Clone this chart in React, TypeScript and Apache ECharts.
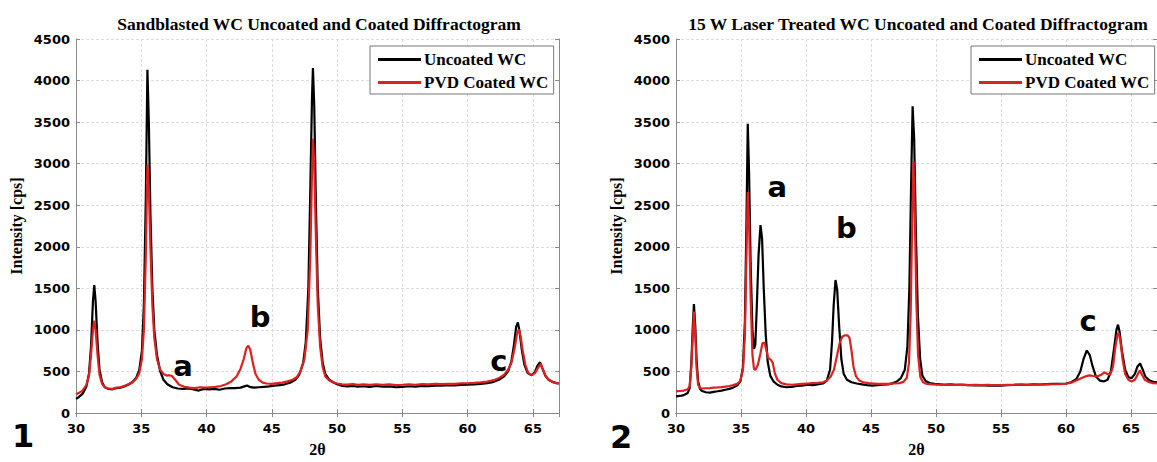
import React, { useEffect, useRef } from "react";
import * as echarts from "echarts";

// ---- Data (2θ, intensity in cps) ----
const xTicks = [30, 35, 40, 45, 50, 55, 60, 65];
const yTicks = [0, 500, 1000, 1500, 2000, 2500, 3000, 3500, 4000, 4500];

const titleLeft = "Sandblasted WC Uncoated and Coated Diffractogram";
const titleRight = "15 W Laser Treated WC Uncoated and Coated Diffractogram";
const seriesNames = ["Uncoated WC", "PVD Coated WC"];

const sbUncoated: number[][] = [
  [30.0,170],[30.2,190],[30.5,230],[30.8,320],[31.0,480],[31.15,800],[31.3,1350],[31.4,1540],[31.5,1350],[31.65,850],[31.8,520],[32.0,370],[32.2,310],[32.5,290],[32.8,285],[33.1,300],[33.4,305],[33.7,320],[34.0,340],[34.3,370],[34.6,420],[34.85,520],[35.05,750],[35.2,1300],[35.35,2600],[35.47,4130],[35.58,3500],[35.7,2400],[35.85,1500],[36.0,1000],[36.2,700],[36.45,500],[36.7,400],[37.0,345],[37.4,310],[37.8,295],[38.2,290],[38.6,295],[39.0,285],[39.4,270],[39.8,290],[40.2,285],[40.6,290],[41.0,280],[41.4,295],[41.8,300],[42.2,300],[42.6,305],[42.9,320],[43.1,330],[43.3,315],[43.6,305],[44.0,310],[44.4,315],[44.8,320],[45.2,330],[45.6,335],[46.0,345],[46.4,365],[46.8,400],[47.1,460],[47.4,600],[47.6,850],[47.8,1500],[47.95,2700],[48.08,3800],[48.15,4150],[48.25,3700],[48.38,2500],[48.52,1500],[48.7,900],[48.9,600],[49.1,470],[49.4,400],[49.7,370],[50.0,345],[50.4,325],[50.8,320],[51.2,325],[51.6,318],[52.0,322],[52.5,315],[53.0,325],[53.5,318],[54.0,320],[54.5,310],[55.0,315],[55.5,322],[56.0,318],[56.5,325],[57.0,322],[57.5,330],[58.0,328],[58.5,335],[59.0,332],[59.5,338],[60.0,340],[60.5,345],[61.0,350],[61.5,360],[62.0,375],[62.4,400],[62.8,440],[63.1,500],[63.35,620],[63.55,820],[63.72,1040],[63.85,1090],[63.98,980],[64.15,760],[64.35,580],[64.6,480],[64.9,455],[65.15,490],[65.35,570],[65.55,610],[65.72,540],[65.95,450],[66.2,400],[66.5,375],[66.8,360],[67.0,355]
];

const sbCoated: number[][] = [
  [30.0,225],[30.2,240],[30.5,270],[30.8,340],[31.0,450],[31.15,700],[31.3,1000],[31.4,1110],[31.5,1000],[31.65,700],[31.8,460],[32.0,350],[32.2,310],[32.5,295],[32.8,290],[33.1,305],[33.4,310],[33.7,325],[34.0,345],[34.3,365],[34.6,410],[34.85,480],[35.05,650],[35.2,1000],[35.35,1900],[35.47,2990],[35.58,2700],[35.7,2000],[35.85,1300],[36.0,900],[36.2,650],[36.45,520],[36.7,470],[36.95,450],[37.15,455],[37.35,445],[37.6,400],[37.9,340],[38.3,315],[38.7,305],[39.1,300],[39.5,310],[39.9,305],[40.3,310],[40.7,315],[41.1,325],[41.5,345],[41.9,380],[42.3,440],[42.6,530],[42.85,650],[43.05,780],[43.2,810],[43.35,760],[43.55,600],[43.75,470],[44.0,400],[44.3,365],[44.6,355],[45.0,350],[45.4,360],[45.8,365],[46.2,380],[46.6,400],[46.9,430],[47.2,500],[47.5,650],[47.75,1000],[47.95,1900],[48.08,2900],[48.15,3300],[48.25,3000],[48.38,2100],[48.52,1300],[48.7,800],[48.9,550],[49.1,440],[49.4,390],[49.7,370],[50.0,355],[50.4,345],[50.8,342],[51.2,348],[51.6,340],[52.0,345],[52.5,338],[53.0,346],[53.5,340],[54.0,344],[54.5,336],[55.0,340],[55.5,346],[56.0,340],[56.5,348],[57.0,344],[57.5,350],[58.0,347],[58.5,352],[59.0,350],[59.5,356],[60.0,358],[60.5,362],[61.0,368],[61.5,378],[62.0,395],[62.4,420],[62.8,460],[63.1,520],[63.35,600],[63.6,780],[63.78,950],[63.92,1005],[64.05,930],[64.22,750],[64.42,580],[64.65,480],[64.9,455],[65.15,480],[65.38,540],[65.6,590],[65.78,520],[66.0,440],[66.25,395],[66.55,370],[66.8,360],[67.0,355]
];

const lzUncoated: number[][] = [
  [30.0,200],[30.3,205],[30.6,215],[30.9,240],[31.05,300],[31.18,600],[31.28,1000],[31.38,1310],[31.48,1050],[31.58,650],[31.7,380],[31.85,290],[32.0,265],[32.3,250],[32.6,245],[32.9,255],[33.2,262],[33.5,270],[33.8,280],[34.1,290],[34.4,305],[34.7,330],[34.95,380],[35.15,550],[35.3,1100],[35.42,2300],[35.52,3480],[35.62,2900],[35.74,1800],[35.88,1000],[36.0,770],[36.1,820],[36.22,1300],[36.35,1900],[36.5,2260],[36.62,2100],[36.75,1500],[36.9,950],[37.05,620],[37.25,450],[37.5,380],[37.8,340],[38.1,320],[38.5,310],[38.9,315],[39.3,325],[39.7,330],[40.1,340],[40.5,335],[40.9,345],[41.3,355],[41.6,390],[41.85,520],[42.0,850],[42.13,1300],[42.27,1600],[42.4,1480],[42.55,1050],[42.72,650],[42.9,470],[43.15,400],[43.5,370],[43.9,355],[44.3,345],[44.7,335],[45.1,330],[45.5,335],[45.9,340],[46.3,345],[46.7,360],[47.0,380],[47.3,420],[47.6,520],[47.8,800],[47.95,1500],[48.08,2700],[48.2,3690],[48.32,3300],[48.45,2200],[48.6,1200],[48.78,650],[48.95,450],[49.2,385],[49.5,360],[49.9,350],[50.3,345],[50.7,340],[51.1,345],[51.5,338],[52.0,340],[52.5,335],[53.0,332],[53.5,335],[54.0,330],[54.5,333],[55.0,330],[55.5,335],[56.0,338],[56.5,342],[57.0,340],[57.5,345],[58.0,343],[58.5,348],[59.0,350],[59.5,352],[60.0,355],[60.4,370],[60.8,410],[61.1,500],[61.35,650],[61.6,752],[61.82,700],[62.05,560],[62.3,440],[62.6,390],[62.9,380],[63.2,400],[63.45,500],[63.7,780],[63.88,1000],[64.0,1063],[64.12,980],[64.3,750],[64.55,520],[64.8,430],[65.05,420],[65.3,470],[65.5,560],[65.7,597],[65.88,530],[66.1,440],[66.4,395],[66.7,375],[67.0,370]
];

const lzCoated: number[][] = [
  [30.0,260],[30.3,265],[30.6,270],[30.9,285],[31.05,320],[31.18,550],[31.28,900],[31.38,1220],[31.48,950],[31.58,550],[31.7,340],[31.85,300],[32.0,295],[32.3,298],[32.6,300],[32.9,305],[33.2,308],[33.5,312],[33.8,318],[34.1,325],[34.4,335],[34.7,350],[34.95,385],[35.15,520],[35.3,950],[35.42,1900],[35.52,2660],[35.62,2300],[35.74,1400],[35.88,700],[36.0,530],[36.12,520],[36.3,580],[36.5,720],[36.65,840],[36.8,848],[36.95,760],[37.1,660],[37.3,640],[37.45,600],[37.6,480],[37.8,400],[38.1,360],[38.5,345],[38.9,340],[39.3,345],[39.7,350],[40.1,355],[40.5,360],[40.9,362],[41.3,370],[41.6,390],[41.9,440],[42.15,520],[42.4,700],[42.6,850],[42.8,920],[43.0,935],[43.2,935],[43.35,900],[43.5,750],[43.65,560],[43.85,440],[44.1,390],[44.4,370],[44.8,360],[45.2,355],[45.6,350],[46.0,352],[46.4,350],[46.8,355],[47.2,360],[47.5,375],[47.75,420],[47.92,600],[48.05,1200],[48.17,2300],[48.27,3033],[48.37,2400],[48.48,1400],[48.62,700],[48.8,430],[49.0,370],[49.3,350],[49.7,345],[50.1,342],[50.5,340],[51.0,344],[51.5,338],[52.0,342],[52.5,336],[53.0,340],[53.5,335],[54.0,338],[54.5,334],[55.0,337],[55.5,340],[56.0,338],[56.5,342],[57.0,340],[57.5,343],[58.0,341],[58.5,345],[59.0,346],[59.5,348],[60.0,352],[60.4,365],[60.8,390],[61.2,420],[61.5,440],[61.8,453],[62.1,445],[62.4,440],[62.7,460],[62.95,490],[63.15,470],[63.4,460],[63.62,560],[63.8,800],[63.95,930],[64.05,967],[64.17,880],[64.35,650],[64.55,470],[64.8,400],[65.05,380],[65.3,400],[65.5,460],[65.68,513],[65.85,460],[66.05,400],[66.4,370],[66.7,360],[67.0,355]
];

// peak annotations: [2θ, intensity, label]
const sbNotes: (number | string)[][] = [
  [38.2, 570, "a"],
  [44.1, 1150, "b"],
  [62.4, 630, "c"],
];
const lzNotes: (number | string)[][] = [
  [37.8, 2720, "a"],
  [43.1, 2220, "b"],
  [61.7, 1110, "c"],
];

const BLACK = "#000000";
const RED = "#dd2020";
const AXIS = "#8a8a8a";
const SANS = "DejaVu Sans";
const SERIF = "Liberation Serif";

export default function App() {
  const ref = useRef<HTMLDivElement>(null);

  useEffect(() => {
    if (!ref.current) return;
    const chart = echarts.init(ref.current, null, { renderer: "svg" });

    const xMin = xTicks[0];
    const xMax = 67;
    const xStep = xTicks[1] - xTicks[0];
    const yMin = yTicks[0];
    const yMax = yTicks[yTicks.length - 1];
    const yStep = yTicks[1] - yTicks[0];

    const grids = [
      { left: 76, top: 39, width: 483, height: 377 },
      { left: 676, top: 39, width: 485, height: 377 },
    ];

    const gridLine = { show: true, lineStyle: { color: "#dcdcdc", type: [3, 2], width: 1 } };
    const tick = { show: true, inside: true, length: 4, lineStyle: { color: AXIS } };
    const axLine = { show: true, lineStyle: { color: AXIS, width: 1 } };
    const nameStyle = { fontFamily: SERIF, fontWeight: "bold", fontSize: 16, color: "#000" };
    const tickLabel = { color: "#000", fontFamily: SANS, fontWeight: "bold", fontSize: 13 };

    const bottomX = (g: number) => ({
      type: "value",
      gridIndex: g,
      min: xMin,
      max: xMax,
      interval: xStep,
      position: "bottom",
      axisLine: axLine,
      axisTick: tick,
      axisLabel: { show: true, showMaxLabel: false, margin: 9, ...tickLabel },
      splitLine: gridLine,
      name: "2θ",
      nameLocation: "middle",
      nameGap: 28,
      nameTextStyle: nameStyle,
    });
    const topX = (g: number) => ({
      type: "value",
      gridIndex: g,
      min: xMin,
      max: xMax,
      interval: xStep,
      position: "top",
      axisLine: axLine,
      axisTick: tick,
      axisLabel: { show: false },
      splitLine: { show: false },
    });
    const leftY = (g: number) => ({
      type: "value",
      gridIndex: g,
      min: yMin,
      max: yMax,
      interval: yStep,
      position: "left",
      axisLine: axLine,
      axisTick: tick,
      axisLabel: { show: true, margin: 6, formatter: (v: number) => String(v), ...tickLabel },
      splitLine: gridLine,
      name: "Intensity [cps]",
      nameLocation: "middle",
      nameGap: 52,
      nameTextStyle: nameStyle,
    });
    const rightY = (g: number) => ({
      type: "value",
      gridIndex: g,
      min: yMin,
      max: yMax,
      interval: yStep,
      position: "right",
      axisLine: axLine,
      axisTick: tick,
      axisLabel: { show: false },
      splitLine: { show: false },
    });

    const lineSeries = (name: string, data: number[][], color: string, g: number) => ({
      type: "line",
      name,
      xAxisIndex: g,
      yAxisIndex: g,
      data,
      showSymbol: false,
      symbol: "none",
      lineStyle: { color, width: 2.2 },
      itemStyle: { color },
      clip: true,
      silent: true,
    });

    const noteSeries = (data: (number | string)[][], g: number) => ({
      type: "scatter",
      name: "notes" + g,
      xAxisIndex: g,
      yAxisIndex: g,
      data,
      symbolSize: 1,
      itemStyle: { color: "rgba(0,0,0,0)", opacity: 1 },
      silent: true,
      z: 5,
      label: {
        show: true,
        position: "inside",
        formatter: (p: any) => p.value[2],
        color: "#000",
        opacity: 1,
        textBorderWidth: 0,
        fontFamily: SANS,
        fontWeight: "bold",
        fontSize: 29,
      },
    });

    const legendBase = {
      data: seriesNames,
      orient: "vertical",
      icon: "rect",
      itemWidth: 43,
      itemHeight: 3,
      itemGap: 6,
      padding: [5, 5, 3, 8],
      backgroundColor: "#fff",
      borderColor: "#777",
      borderWidth: 1,
      borderRadius: 0,
      selectedMode: false,
      textStyle: { fontFamily: SERIF, fontWeight: "bold", fontSize: 17, color: "#000", padding: [0, 0, 0, -2] },
    };

    const titleText = (text: string, x: number) => ({
      type: "text",
      x,
      y: 24,
      style: {
        text,
        textAlign: "center",
        textVerticalAlign: "middle",
        font: `bold 17.5px "${SERIF}"`,
        fill: "#000",
      },
    });

    const option: any = {
      animation: false,
      backgroundColor: "#fff",
      grid: grids,
      xAxis: [bottomX(0), bottomX(1), topX(0), topX(1)],
      yAxis: [leftY(0), leftY(1), rightY(0), rightY(1)],
      legend: [
        { ...legendBase, left: 370, top: 46 },
        { ...legendBase, left: 971, top: 46 },
      ],
      series: [
        lineSeries(seriesNames[0], sbUncoated, BLACK, 0),
        lineSeries(seriesNames[1], sbCoated, RED, 0),
        lineSeries(seriesNames[0], lzUncoated, BLACK, 1),
        lineSeries(seriesNames[1], lzCoated, RED, 1),
        noteSeries(sbNotes, 0),
        noteSeries(lzNotes, 1),
      ],
      graphic: [
        titleText(titleLeft, 319),
        titleText(titleRight, 918),
        {
          type: "text",
          x: 12,
          y: 436,
          style: { text: "1", textAlign: "left", textVerticalAlign: "middle", font: `bold 32px "${SANS}"`, fill: "#000" },
        },
        {
          type: "text",
          x: 610,
          y: 437,
          style: { text: "2", textAlign: "left", textVerticalAlign: "middle", font: `bold 32px "${SANS}"`, fill: "#000" },
        },
      ],
    };

    chart.setOption(option);
    return () => chart.dispose();
  }, []);

  return (
    <div
      ref={ref}
      style={{ position: "fixed", left: 0, top: 0, width: 1157, height: 462, background: "#fff" }}
    />
  );
}
